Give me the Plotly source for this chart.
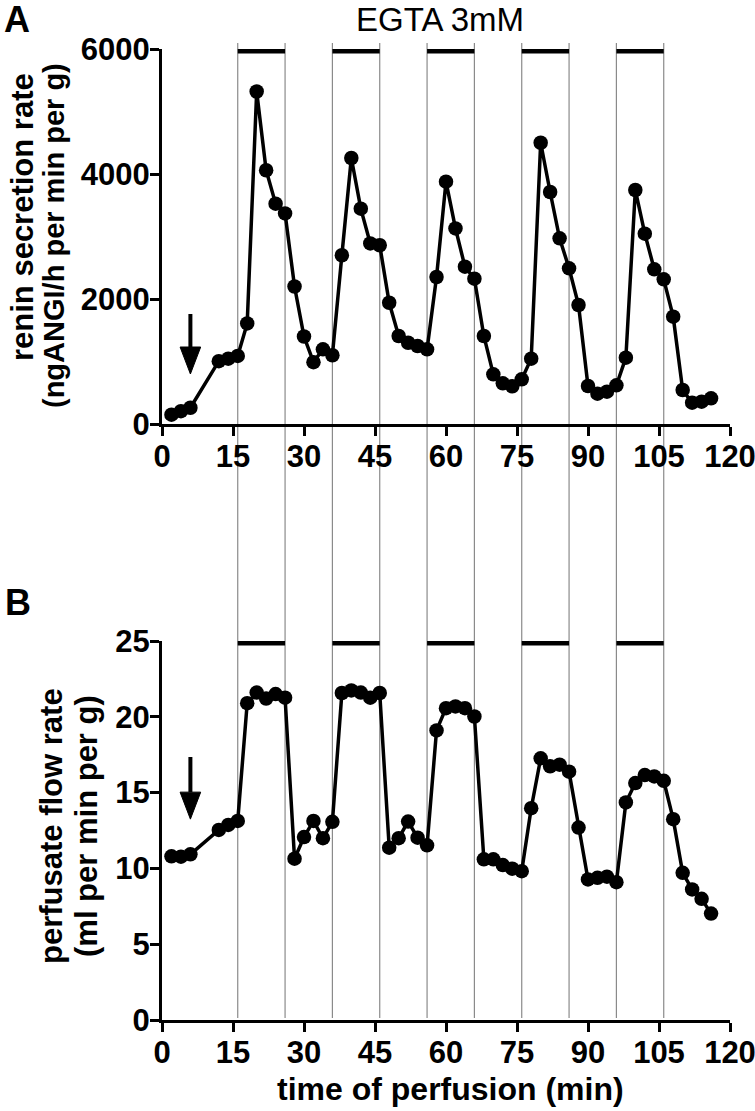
import plotly.graph_objects as go

# ---------------- data ----------------
time_min = [2, 4, 6, 12, 14] + list(range(16, 117, 2))

renin_rate = [150, 205, 260, 1005, 1045,
              1090, 1610, 5320, 4060, 3525, 3370, 2200, 1400, 990, 1195,
              1100, 2700, 4256, 3445, 2890, 2860, 1940, 1408, 1300, 1248,
              1195, 2352, 3877, 3130, 2517, 2325, 1408, 795, 651, 603,
              715, 1045, 4500, 3712, 2971, 2491, 1904, 608, 485, 517,
              619, 1061, 3744, 3045, 2475, 2315, 1717, 544, 341, 357,
              411]

flow_rate = [10.8, 10.77, 10.93, 12.54, 12.87,
             13.13, 20.9, 21.6, 21.2, 21.5, 21.26, 10.64, 12.07, 13.13, 11.99,
             13.07, 21.57, 21.74, 21.6, 21.26, 21.57, 11.37, 11.99, 13.09, 12.03,
             11.52, 19.1, 20.57, 20.68, 20.57, 20.02, 10.6, 10.6, 10.22, 9.98,
             9.82, 13.97, 17.26, 16.73, 16.84, 16.38, 12.69, 9.27, 9.38, 9.45,
             9.09, 14.35, 15.63, 16.16, 16.07, 15.78, 13.25, 9.71, 8.61, 7.99,
             7.02]

egta_periods = [(16, 26), (36, 46), (56, 66), (76, 86), (96, 106)]
x_ticks = [0, 15, 30, 45, 60, 75, 90, 105, 120]
renin_ticks = [0, 2000, 4000, 6000]
flow_ticks = [0, 5, 10, 15, 20, 25]
arrow_time = 6
arrow_renin = (1760, 800)   # tail, tip
arrow_flow = (17.35, 13.25)

# ---------------- layout geometry (page pixels) ----------------
W, H = 755, 1111
PL, PR, PT, PB = 162, 730, 49, 1020          # plot area
L, T, R, B = PL, PT, W - PR, H - PB
plot_w = PR - PL
plot_h = PB - PT
def px_x(px):
    return (px - PL) / plot_w
def px_y(py):
    return (PB - py) / plot_h

dom_a = [px_y(424), 1.0]
dom_b = [0.0, px_y(641)]

FONT = "Arial, Liberation Sans, sans-serif"
tick_font = dict(family=FONT, size=31, color="black", weight="bold")

fig = go.Figure()

line_style = dict(color="black", width=3.5)
marker_style = dict(color="black", size=14.5)

fig.add_trace(go.Scatter(x=time_min, y=renin_rate, mode="lines+markers",
                         line=line_style, marker=marker_style,
                         xaxis="x", yaxis="y", showlegend=False))
fig.add_trace(go.Scatter(x=time_min, y=flow_rate, mode="lines+markers",
                         line=line_style, marker=marker_style,
                         xaxis="x2", yaxis="y2", showlegend=False))

# EGTA bars
for (s, e) in egta_periods:
    fig.add_trace(go.Scatter(x=[s, e], y=[renin_ticks[-1]] * 2, mode="lines",
                             line=dict(color="black", width=9), cliponaxis=False,
                             xaxis="x", yaxis="y", showlegend=False, hoverinfo="skip"))
    fig.add_trace(go.Scatter(x=[s, e], y=[flow_ticks[-1]] * 2, mode="lines",
                             line=dict(color="black", width=9), cliponaxis=False,
                             xaxis="x2", yaxis="y2", showlegend=False, hoverinfo="skip"))

shapes = []
for (s, e) in egta_periods:
    for xv in (s, e):
        shapes.append(dict(type="line", xref="x", yref="paper", x0=xv, x1=xv,
                           y0=px_y(1018), y1=px_y(43),
                           line=dict(color="#8a8a8a", width=1.2), layer="below"))

def arrow(xr, yr, tail, tip, head_len_px, head_halfw_px, ppu_y):
    head_len = head_len_px / ppu_y
    hw = head_halfw_px / (plot_w / 120.0)
    base = tip + head_len
    return [dict(type="line", xref=xr, yref=yr, x0=arrow_time, x1=arrow_time,
                 y0=tail, y1=base, line=dict(color="black", width=4)),
            dict(type="path", xref=xr, yref=yr,
                 path=f"M {arrow_time - hw} {base} L {arrow_time + hw} {base} L {arrow_time} {tip} Z",
                 fillcolor="black", line=dict(color="black", width=1))]

ppu_a = (424 - 49) / 6000.0
ppu_b = (1020 - 641) / 25.0
shapes += arrow("x", "y", arrow_renin[0], arrow_renin[1], 27, 10.3, ppu_a)
shapes += arrow("x2", "y2", arrow_flow[0], arrow_flow[1], 27, 10.3, ppu_b)

axis_common = dict(showline=True, linewidth=3, linecolor="black", ticks="outside",
                   ticklen=9, tickwidth=3, tickcolor="black", showgrid=False,
                   zeroline=False, tickfont=tick_font, ticklabeloverflow="allow",
                   ticklabelstandoff=-6, automargin=False)

fig.update_layout(
    width=W, height=H,
    margin=dict(l=L, r=R, t=T, b=B, pad=0, autoexpand=False),
    paper_bgcolor="white", plot_bgcolor="rgba(0,0,0,0)",
    shapes=shapes,
    xaxis=dict(domain=[0, 1], range=[0, 120], tickvals=x_ticks, anchor="y", **axis_common),
    yaxis=dict(domain=dom_a, range=[0, 6000], tickvals=renin_ticks, anchor="x", **axis_common),
    xaxis2=dict(domain=[0, 1], range=[0, 120], tickvals=x_ticks, anchor="y2", **axis_common),
    yaxis2=dict(domain=dom_b, range=[0, 25], tickvals=flow_ticks, anchor="x2", **axis_common),
)

def title_font(size):
    return dict(family=FONT, size=size, color="black", weight="bold")

ann = []
def vtitle(text, px, py, size):
    ann.append(dict(text=text, x=px_x(px), y=px_y(py), xref="paper", yref="paper",
                    textangle=-90, showarrow=False, font=title_font(size),
                    xanchor="center", yanchor="middle"))
vtitle("renin secretion rate", 22, 217, 31)
vtitle("(ngANGI/h per min per g)", 54, 236, 29)
vtitle("perfusate flow rate", 51, 826, 31)
vtitle("(ml per min per g)", 86, 826, 31)
ann.append(dict(text="time of perfusion (min)", x=px_x(450), y=px_y(1089), xref="paper", yref="paper",
                showarrow=False, font=title_font(32), xanchor="center", yanchor="middle"))
ann.append(dict(text="EGTA 3mM", x=px_x(440), y=px_y(19), xref="paper", yref="paper",
                showarrow=False, font=dict(family=FONT, size=33, color="black"),
                xanchor="center", yanchor="middle"))
ann.append(dict(text="A", x=px_x(17), y=px_y(19), xref="paper", yref="paper",
                showarrow=False, font=title_font(36), xanchor="center", yanchor="middle"))
ann.append(dict(text="B", x=px_x(18), y=px_y(602), xref="paper", yref="paper",
                showarrow=False, font=title_font(36), xanchor="center", yanchor="middle"))
fig.update_layout(annotations=ann)

fig.write_html("out.html", config={"displayModeBar": False},
               post_script="document.body.style.margin='0';document.body.style.overflow='hidden';")
